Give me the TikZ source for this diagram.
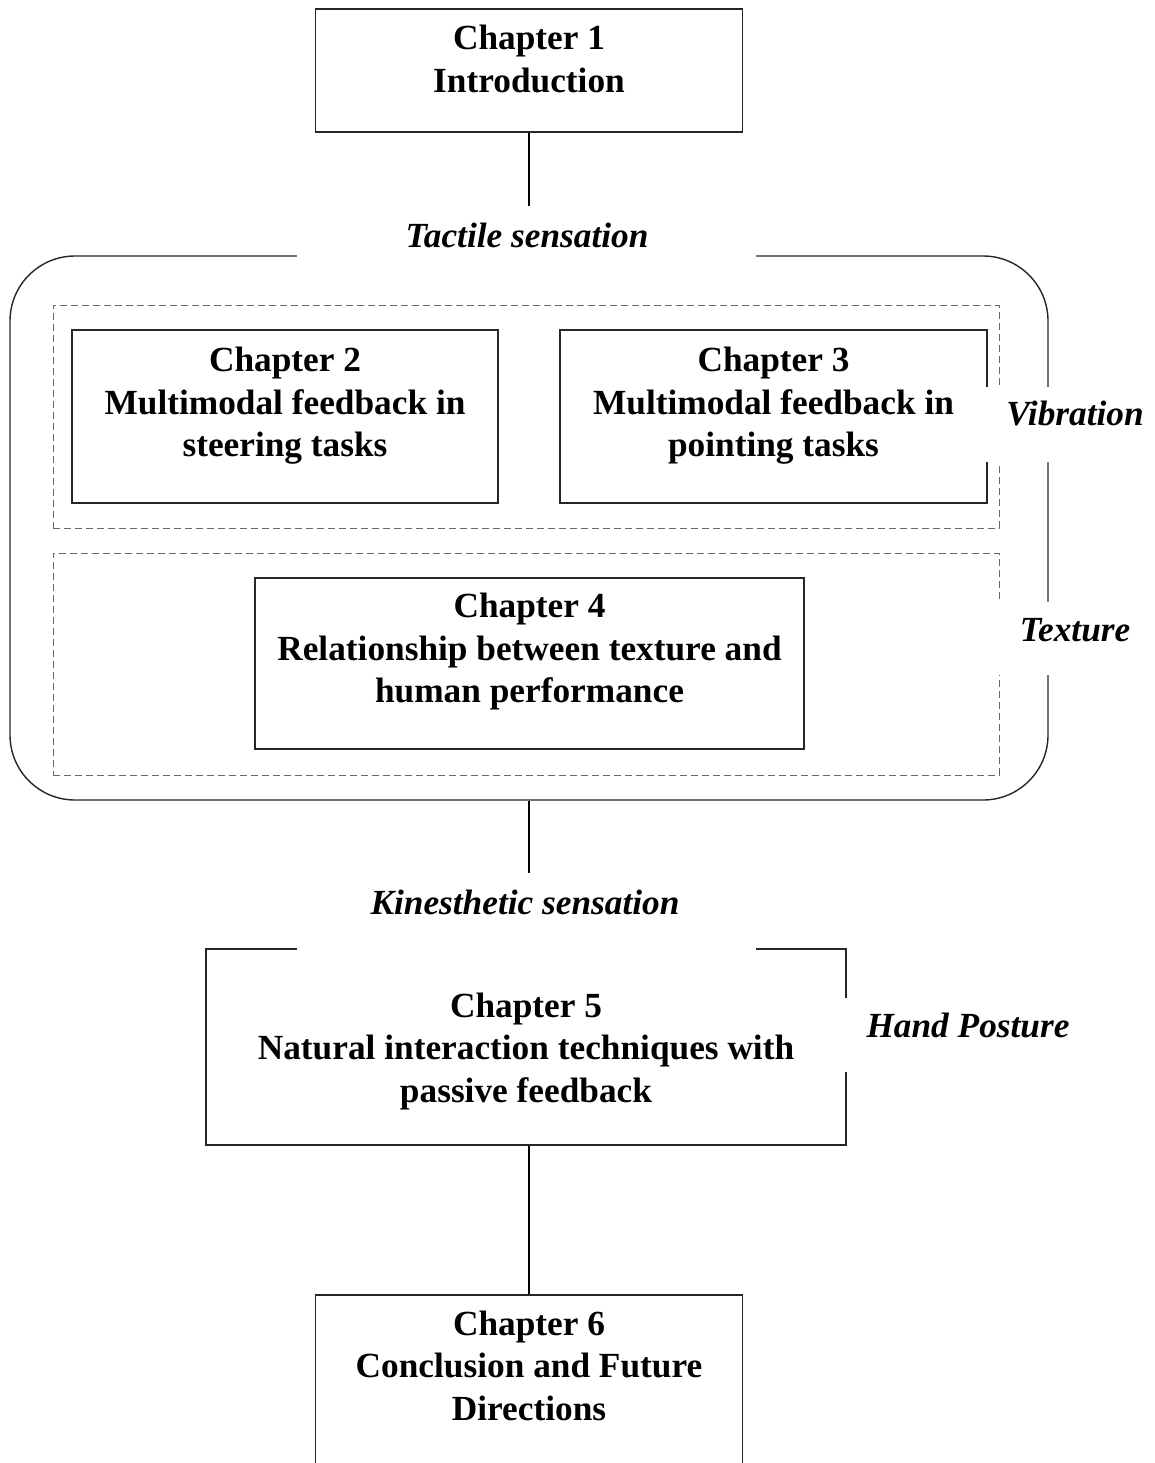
\documentclass[tikz,border=0pt]{standalone}
\usepackage{fontspec}
\setmainfont{Liberation Serif}
\usetikzlibrary{positioning}

\begin{document}
\begin{tikzpicture}[x=1pt,y=-1pt,
  chbox/.style={draw=black!85,line width=1.4pt,inner sep=0pt},
  chtext/.style={font=\fontsize{35.3}{42.5}\selectfont\bfseries,align=center,inner sep=0pt},
  sense/.style={font=\fontsize{35.3}{42.5}\selectfont\bfseries\itshape,inner xsep=0pt,inner ysep=16pt},
  group/.style={draw=black!60,dash pattern=on 7pt off 4pt,line width=1pt,inner sep=0pt},
  link/.style={draw=black,line width=1.8pt},
  gap/.style={fill=white}]
\clip (0,0) rectangle (1155,1463);
\node[chbox,minimum width=427,minimum height=123] (ch1) at (529,70.5) {};
\node[chbox,rounded corners=65pt,minimum width=1038,minimum height=544] (frame) at (529,528) {};
\node[group,minimum width=946,minimum height=223] (vibgroup) at (526,416.5) {};
\node[group,minimum width=946,minimum height=222] (texgroup) at (526,664) {};
\node[chbox,minimum width=426,minimum height=173] (ch2) at (285,416.5) {};
\node[chbox,minimum width=427,minimum height=173] (ch3) at (773.5,416.5) {};
\node[chbox,minimum width=549,minimum height=171] (ch4) at (529.5,663.5) {};
\node[chbox,minimum width=640,minimum height=196] (ch5) at (526,1047) {};
\node[chbox,minimum width=427,minimum height=200] (ch6) at (529,1395) {};
\fill[gap] (297,248) rectangle (756,264);
\fill[gap] (980,387) rectangle (1056,462);
\fill[gap] (990,602) rectangle (1056,675);
\fill[gap] (297,941) rectangle (756,957);
\fill[gap] (838,998) rectangle (854,1072);
\node[chtext,below=17pt of ch1.north] (ch1t) {Chapter 1\\Introduction};
\node[chtext,below=18pt of ch2.north] (ch2t) {Chapter 2\\Multimodal feedback in\\steering tasks};
\node[chtext,below=18pt of ch3.north] (ch3t) {Chapter 3\\Multimodal feedback in\\pointing tasks};
\node[chtext,below=16pt of ch4.north] (ch4t) {Chapter 4\\Relationship between texture and\\human performance};
\node[chtext,below=44pt of ch5.north] (ch5t) {Chapter 5\\Natural interaction techniques with\\passive feedback};
\node[chtext,below=16pt of ch6.north] (ch6t) {Chapter 6\\Conclusion and Future\\Directions};
\node[sense] (tactile) at (527,235) {Tactile sensation};
\node[sense] (kinesthetic) at (525,902) {Kinesthetic sensation};
\node[sense] (vibration) at (1075,414) {Vibration};
\node[sense] (texture) at (1075,630) {Texture};
\node[sense] (posture) at (968,1025) {Hand Posture};
\draw[link] (ch1.south) -- (ch1.south |- tactile.north);
\draw[link] (frame.south) -- (frame.south |- kinesthetic.north);
\draw[link] (ch5.south -| ch6.north) -- (ch6.north);
\end{tikzpicture}
\end{document}
